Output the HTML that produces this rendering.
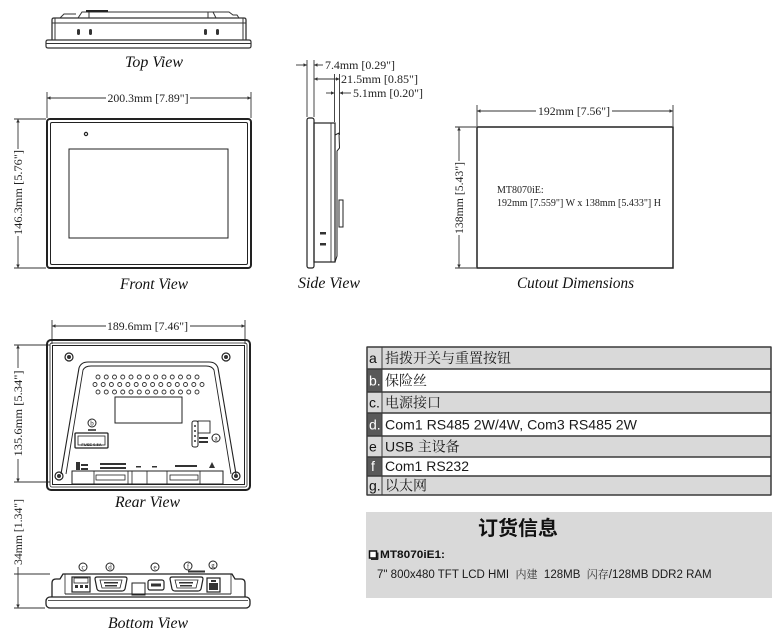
<!DOCTYPE html>
<html><head><meta charset="utf-8">
<style>
html,body{margin:0;padding:0;background:#fff;}
svg{display:block;}
</style></head><body>
<svg width="780" height="639" viewBox="0 0 780 639" xmlns="http://www.w3.org/2000/svg">
<defs>
<marker id="ar" viewBox="0 0 6 6" refX="6" refY="3" markerWidth="4" markerHeight="4" orient="auto-start-reverse"><path d="M0,0 L6,3 L0,6 z" fill="#333"/></marker>
</defs>
<rect x="0" y="0" width="780" height="639" fill="#fff"/>

<!-- ================= TOP VIEW ================= -->
<g fill="none" stroke="#333" stroke-width="1">
  <path d="M48 40 H249 Q251 40 251 42 V46 Q251 48 249 48 H48 Q46 48 46 46 V42 Q46 40 48 40 Z" stroke-width="1.2"/>
  <line x1="46" y1="43.5" x2="251" y2="43.5"/>
  <path d="M52 40 V20 Q52 18 54 18 H244 Q246 18 246 20 V40" stroke-width="1.3"/>
  <line x1="52" y1="23" x2="246" y2="23"/>
  <line x1="55" y1="18" x2="55" y2="40"/>
  <line x1="243" y1="18" x2="243" y2="40"/>
  <path d="M57 18 H60 L64 14 H76 M76 18 H78 L82 12 H229 L233 15 H237 L239 18"/>
  <line x1="89" y1="12" x2="89" y2="18"/>
  <line x1="208" y1="12" x2="208" y2="18"/>
  <line x1="213" y1="12" x2="216" y2="18"/>
</g>
<line x1="86" y1="11" x2="108" y2="11" stroke="#222" stroke-width="2"/>
<g fill="#333">
  <rect x="77" y="29" width="3" height="6" rx="1.5"/>
  <rect x="89" y="29" width="3" height="6" rx="1.5"/>
  <rect x="204" y="29" width="3" height="6" rx="1.5"/>
  <rect x="216" y="29" width="3" height="6" rx="1.5"/>
</g>
<text x="154" y="67" text-anchor="middle" font-family="Liberation Serif, serif" font-style="italic" font-size="16" fill="#111" textLength="58" lengthAdjust="spacingAndGlyphs">Top View</text>

<!-- ================= FRONT VIEW ================= -->
<g fill="none" stroke="#333" stroke-width="0.9">
  <line x1="47" y1="92" x2="47" y2="118"/>
  <line x1="251" y1="92" x2="251" y2="118"/>
  <line x1="47" y1="98" x2="106" y2="98" marker-start="url(#ar)"/>
  <line x1="190" y1="98" x2="251" y2="98" marker-end="url(#ar)"/>
  <line x1="14" y1="119" x2="46" y2="119"/>
  <line x1="14" y1="268" x2="46" y2="268"/>
  <line x1="18" y1="119" x2="18" y2="149" marker-start="url(#ar)"/>
  <line x1="18" y1="236" x2="18" y2="268" marker-end="url(#ar)"/>
</g>
<text x="148" y="102" text-anchor="middle" font-family="Liberation Serif, serif" font-size="12" fill="#222" textLength="81" lengthAdjust="spacingAndGlyphs">200.3mm [7.89"]</text>
<text transform="translate(22,192.5) rotate(-90)" x="0" y="0" text-anchor="middle" font-family="Liberation Serif, serif" font-size="12" fill="#222" textLength="85" lengthAdjust="spacingAndGlyphs">146.3mm [5.76"]</text>
<g fill="none" stroke="#222">
  <rect x="47" y="119" width="204" height="149" rx="3" stroke-width="2"/>
  <rect x="50.5" y="122.5" width="197" height="142" rx="1.5" stroke-width="1"/>
  <rect x="69" y="149" width="159" height="89" stroke-width="1"/>
  <circle cx="86" cy="134" r="1.6" stroke-width="1.2"/>
</g>
<text x="154" y="289" text-anchor="middle" font-family="Liberation Serif, serif" font-style="italic" font-size="16" fill="#111" textLength="68" lengthAdjust="spacingAndGlyphs">Front View</text>

<!-- ================= SIDE VIEW ================= -->
<g fill="none" stroke="#333" stroke-width="0.9">
  <line x1="307" y1="60" x2="307" y2="117"/>
  <line x1="314" y1="60" x2="314" y2="117"/>
  <line x1="334.5" y1="74" x2="334.5" y2="122"/>
  <line x1="339.5" y1="74" x2="339.5" y2="135"/>
  <line x1="296" y1="65" x2="307" y2="65" marker-end="url(#ar)"/>
  <line x1="314" y1="65" x2="323" y2="65" marker-start="url(#ar)"/>
  <line x1="314" y1="79" x2="339.5" y2="79" marker-start="url(#ar)" marker-end="url(#ar)"/>
  <line x1="326" y1="93" x2="334.5" y2="93" marker-end="url(#ar)"/>
  <line x1="339.5" y1="93" x2="351" y2="93" marker-start="url(#ar)"/>
</g>
<g font-family="Liberation Serif, serif" font-size="12" fill="#222">
  <text x="325" y="69" textLength="70" lengthAdjust="spacingAndGlyphs">7.4mm [0.29"]</text>
  <text x="341" y="83" textLength="77" lengthAdjust="spacingAndGlyphs">21.5mm [0.85"]</text>
  <text x="353" y="97" textLength="70" lengthAdjust="spacingAndGlyphs">5.1mm [0.20"]</text>
</g>
<g fill="none" stroke="#222" stroke-width="1.2">
  <rect x="307" y="118" width="7" height="150" rx="2"/>
  <rect x="314" y="123" width="21" height="139"/>
  <line x1="331" y1="123" x2="331" y2="262" stroke-width="0.8"/>
  <path d="M335 135 L339 133 L339.5 148 L337 151 V256 L335 262" stroke-width="1"/>
  <rect x="339" y="200" width="4" height="27" stroke-width="1"/>
</g>
<g fill="#333">
  <rect x="320" y="232" width="6" height="2.5"/>
  <rect x="320" y="243" width="6" height="2.5"/>
</g>
<text x="329" y="288" text-anchor="middle" font-family="Liberation Serif, serif" font-style="italic" font-size="16" fill="#111" textLength="62" lengthAdjust="spacingAndGlyphs">Side View</text>

<!-- ================= CUTOUT ================= -->
<g fill="none" stroke="#333" stroke-width="0.9">
  <line x1="477" y1="105" x2="477" y2="126"/>
  <line x1="673" y1="105" x2="673" y2="126"/>
  <line x1="477" y1="111" x2="536" y2="111" marker-start="url(#ar)"/>
  <line x1="612" y1="111" x2="673" y2="111" marker-end="url(#ar)"/>
  <line x1="455" y1="127" x2="476" y2="127"/>
  <line x1="455" y1="268" x2="476" y2="268"/>
  <line x1="459" y1="127" x2="459" y2="161" marker-start="url(#ar)"/>
  <line x1="459" y1="235" x2="459" y2="268" marker-end="url(#ar)"/>
</g>
<text x="574" y="115" text-anchor="middle" font-family="Liberation Serif, serif" font-size="12" fill="#222" textLength="72" lengthAdjust="spacingAndGlyphs">192mm [7.56"]</text>
<text transform="translate(463,198) rotate(-90)" x="0" y="0" text-anchor="middle" font-family="Liberation Serif, serif" font-size="12" fill="#222" textLength="72" lengthAdjust="spacingAndGlyphs">138mm [5.43"]</text>
<rect x="477" y="127" width="196" height="141" fill="none" stroke="#222" stroke-width="1.5"/>
<g font-family="Liberation Serif, serif" font-size="10" fill="#222">
  <text x="497" y="193">MT8070iE:</text>
  <text x="497" y="206" textLength="164" lengthAdjust="spacingAndGlyphs">192mm [7.559"] W x 138mm [5.433"] H</text>
</g>
<text x="575.5" y="288" text-anchor="middle" font-family="Liberation Serif, serif" font-style="italic" font-size="16" fill="#111" textLength="117" lengthAdjust="spacingAndGlyphs">Cutout Dimensions</text>

<!-- ================= REAR VIEW ================= -->
<g fill="none" stroke="#333" stroke-width="0.9">
  <line x1="52" y1="320" x2="52" y2="344"/>
  <line x1="245" y1="320" x2="245" y2="344"/>
  <line x1="52" y1="326" x2="106" y2="326" marker-start="url(#ar)"/>
  <line x1="190" y1="326" x2="245" y2="326" marker-end="url(#ar)"/>
  <line x1="14" y1="345" x2="50" y2="345"/>
  <line x1="14" y1="482" x2="50" y2="482"/>
  <line x1="18" y1="345" x2="18" y2="368" marker-start="url(#ar)"/>
  <line x1="18" y1="459" x2="18" y2="482" marker-end="url(#ar)"/>
</g>
<text x="147.5" y="330" text-anchor="middle" font-family="Liberation Serif, serif" font-size="12" fill="#222" textLength="81" lengthAdjust="spacingAndGlyphs">189.6mm [7.46"]</text>
<text transform="translate(22,413.5) rotate(-90)" x="0" y="0" text-anchor="middle" font-family="Liberation Serif, serif" font-size="12" fill="#222" textLength="86" lengthAdjust="spacingAndGlyphs">135.6mm [5.34"]</text>
<g fill="none" stroke="#222">
  <rect x="47" y="340" width="203" height="150" rx="4" stroke-width="2"/>
  <rect x="50" y="343" width="197" height="144" rx="2" stroke-width="0.8"/>
  <rect x="52.5" y="345.5" width="192" height="139" stroke-width="1"/>
  <path d="M61 474 L79 368 Q81 362 88 362 H209 Q216 362 218 368 L236 474" stroke-width="1.1"/>
  <path d="M66 474 L83 370 Q85 366 91 366 H206 Q212 366 214 370 L231 474" stroke-width="0.9"/>
  <circle cx="69" cy="357" r="4" stroke-width="1.2"/>
  <circle cx="226" cy="357" r="4" stroke-width="1.2"/>
  <circle cx="59" cy="476" r="4" stroke-width="1.2"/>
  <circle cx="236" cy="476" r="4" stroke-width="1.2"/>
  <rect x="115" y="397" width="67" height="26" stroke-width="1"/>
  <rect x="75" y="433" width="33" height="15" rx="1" stroke-width="1.3"/>
  <rect x="78" y="436" width="27" height="9" stroke-width="0.8"/>
  <circle cx="92" cy="423" r="4" stroke-width="1"/>
  <line x1="88" y1="430" x2="96" y2="430" stroke-width="1.5"/>
  <rect x="192" y="421" width="6" height="26" rx="2" stroke-width="1"/>
  <rect x="198" y="421" width="12" height="12" stroke-width="0.9"/>
  <circle cx="216" cy="438" r="4" stroke-width="1"/>
  <rect x="72" y="471" width="151" height="13" stroke-width="1"/>
  <line x1="94" y1="471" x2="94" y2="484" stroke-width="0.8"/>
  <line x1="128" y1="471" x2="128" y2="484" stroke-width="0.8"/>
  <line x1="132" y1="471" x2="132" y2="484" stroke-width="0.8"/>
  <line x1="147" y1="471" x2="147" y2="484" stroke-width="0.8"/>
  <line x1="167" y1="471" x2="167" y2="484" stroke-width="0.8"/>
  <line x1="200" y1="471" x2="200" y2="484" stroke-width="0.8"/>
  <rect x="96" y="475" width="29" height="5" stroke-width="0.8"/>
  <rect x="170" y="475" width="28" height="5" stroke-width="0.8"/>
</g>
<g fill="#333">
  <circle cx="69" cy="357" r="2"/>
  <circle cx="226" cy="357" r="2"/>
  <circle cx="59" cy="476" r="2"/>
  <circle cx="236" cy="476" r="2"/>
  <circle cx="195" cy="426" r="1"/>
  <circle cx="195" cy="431" r="1"/>
  <circle cx="195" cy="436" r="1"/>
  <circle cx="195" cy="441" r="1"/>
  <rect x="100" y="463" width="26" height="2"/>
  <rect x="100" y="467" width="26" height="2"/>
  <rect x="175" y="465" width="22" height="2"/>
  <rect x="76" y="462" width="4" height="8"/>
  <rect x="81" y="464" width="7" height="2"/>
  <rect x="81" y="468" width="7" height="2"/>
  <path d="M209 468 L212 462 L215 468 Z"/>
  <rect x="136" y="466" width="5" height="1.5"/>
  <rect x="152" y="466" width="5" height="1.5"/>
  <rect x="199" y="437" width="9" height="2"/>
  <rect x="199" y="441" width="9" height="2"/>
</g>
<text x="91.5" y="446" text-anchor="middle" font-family="Liberation Sans, sans-serif" font-weight="bold" font-size="4" fill="#222">FUSE 0.5A</text>
<g font-family="Liberation Serif, serif" font-size="7" fill="#222" text-anchor="middle">
  <text x="92" y="425.5">b</text>
  <text x="216" y="440.5">a</text>
</g>
<g fill="none" stroke="#333" stroke-width="0.9">
<circle cx="98" cy="377" r="2"/><circle cx="106.25" cy="377" r="2"/><circle cx="114.5" cy="377" r="2"/><circle cx="122.75" cy="377" r="2"/><circle cx="131" cy="377" r="2"/><circle cx="139.25" cy="377" r="2"/><circle cx="147.5" cy="377" r="2"/><circle cx="155.75" cy="377" r="2"/><circle cx="164" cy="377" r="2"/><circle cx="172.25" cy="377" r="2"/><circle cx="180.5" cy="377" r="2"/><circle cx="188.75" cy="377" r="2"/><circle cx="197" cy="377" r="2"/>
<circle cx="95" cy="384.5" r="2"/><circle cx="103.2" cy="384.5" r="2"/><circle cx="111.4" cy="384.5" r="2"/><circle cx="119.7" cy="384.5" r="2"/><circle cx="127.9" cy="384.5" r="2"/><circle cx="136.2" cy="384.5" r="2"/><circle cx="144.4" cy="384.5" r="2"/><circle cx="152.6" cy="384.5" r="2"/><circle cx="160.8" cy="384.5" r="2"/><circle cx="169.1" cy="384.5" r="2"/><circle cx="177.3" cy="384.5" r="2"/><circle cx="185.5" cy="384.5" r="2"/><circle cx="193.8" cy="384.5" r="2"/><circle cx="202" cy="384.5" r="2"/>
<circle cx="98" cy="392" r="2"/><circle cx="106.25" cy="392" r="2"/><circle cx="114.5" cy="392" r="2"/><circle cx="122.75" cy="392" r="2"/><circle cx="131" cy="392" r="2"/><circle cx="139.25" cy="392" r="2"/><circle cx="147.5" cy="392" r="2"/><circle cx="155.75" cy="392" r="2"/><circle cx="164" cy="392" r="2"/><circle cx="172.25" cy="392" r="2"/><circle cx="180.5" cy="392" r="2"/><circle cx="188.75" cy="392" r="2"/><circle cx="197" cy="392" r="2"/>
</g>
<text x="147.5" y="507" text-anchor="middle" font-family="Liberation Serif, serif" font-style="italic" font-size="16" fill="#111" textLength="65" lengthAdjust="spacingAndGlyphs">Rear View</text>

<!-- ================= BOTTOM VIEW ================= -->
<g fill="none" stroke="#333" stroke-width="0.9">
  <line x1="14" y1="574" x2="50" y2="574"/>
  <line x1="14" y1="608" x2="45" y2="608"/>
  <line x1="18" y1="567" x2="18" y2="608" marker-end="url(#ar)"/>
</g>
<text transform="translate(22,532) rotate(-90)" x="0" y="0" text-anchor="middle" font-family="Liberation Serif, serif" font-size="12" fill="#222" textLength="66" lengthAdjust="spacingAndGlyphs">34mm [1.34"]</text>
<g fill="none" stroke="#222">
  <rect x="46" y="597" width="204" height="11" rx="4" stroke-width="1.3"/>
  <line x1="48" y1="600.5" x2="248" y2="600.5" stroke-width="0.8"/>
  <path d="M52 597 V583 Q52 579 56 579 H60 L63 574 H232 L235 579 H241 Q245 579 245 583 V597" stroke-width="1.3"/>
  <line x1="65" y1="594" x2="231" y2="594" stroke-width="1"/>
  <line x1="65" y1="574" x2="65" y2="594" stroke-width="0.8"/>
  <line x1="231" y1="574" x2="231" y2="594" stroke-width="0.8"/>
  <rect x="72" y="577" width="18" height="15" stroke-width="1.2"/>
  <rect x="74" y="578" width="14" height="5" stroke-width="0.8"/>
  <path d="M95 579 Q95 577 97 577 H125 Q127 577 127 579 L125 589 Q124 591 122 591 H100 Q98 591 97 589 Z" stroke-width="1.2"/>
  <path d="M100 580 H122 L120 588 H102 Z" stroke-width="0.8"/>
  <rect x="132" y="583" width="13" height="12" stroke-width="1"/>
  <rect x="148" y="580" width="16" height="10" rx="2" stroke-width="1.2"/>
  <path d="M170 579 Q170 577 172 577 H201 Q203 577 203 579 L201 589 Q200 591 198 591 H175 Q173 591 172 589 Z" stroke-width="1.2"/>
  <path d="M175 580 H198 L196 588 H177 Z" stroke-width="0.8"/>
  <rect x="207" y="578" width="13" height="14" stroke-width="1.2"/>
  <circle cx="83" cy="567" r="4" stroke-width="1"/>
  <circle cx="110" cy="567" r="4" stroke-width="1"/>
  <circle cx="155" cy="567" r="4" stroke-width="1"/>
  <circle cx="188" cy="566" r="4" stroke-width="1"/>
  <circle cx="213" cy="565" r="4" stroke-width="1"/>
</g>
<g fill="#333">
  <rect x="75" y="585" width="3" height="3"/>
  <rect x="80" y="585" width="3" height="3"/>
  <rect x="85" y="585" width="3" height="3"/>
  <rect x="104" y="582" width="14" height="1.5"/>
  <rect x="105" y="585" width="12" height="1.5"/>
  <rect x="179" y="582" width="14" height="1.5"/>
  <rect x="180" y="585" width="12" height="1.5"/>
  <rect x="151" y="583.5" width="10" height="3"/>
  <rect x="209" y="583" width="9" height="7"/>
  <rect x="211" y="580" width="5" height="2"/>
  <rect x="188" y="570.5" width="17" height="2"/>
</g>
<g font-family="Liberation Serif, serif" font-size="7" fill="#222" text-anchor="middle">
  <text x="83" y="569.5">c</text>
  <text x="110" y="569.5">d</text>
  <text x="155" y="569.5">e</text>
  <text x="188" y="568.5">f</text>
  <text x="213" y="567.5">g</text>
</g>
<text x="148" y="628" text-anchor="middle" font-family="Liberation Serif, serif" font-style="italic" font-size="16" fill="#111" textLength="80" lengthAdjust="spacingAndGlyphs">Bottom View</text>

<!-- ================= TABLE ================= -->
<g>
  <rect x="367" y="347" width="404" height="22" fill="#d9d9d9"/>
  <rect x="367" y="369" width="15" height="23" fill="#595959"/>
  <rect x="382" y="369" width="389" height="23" fill="#fff"/>
  <rect x="367" y="392" width="404" height="21" fill="#d9d9d9"/>
  <rect x="367" y="413" width="15" height="23" fill="#595959"/>
  <rect x="382" y="413" width="389" height="23" fill="#fff"/>
  <rect x="367" y="436" width="404" height="21" fill="#d9d9d9"/>
  <rect x="367" y="457" width="15" height="19" fill="#595959"/>
  <rect x="382" y="457" width="389" height="19" fill="#fff"/>
  <rect x="367" y="476" width="404" height="19" fill="#d9d9d9"/>
</g>
<g stroke="#3a3a3a" stroke-width="1.5" fill="none">
  <line x1="366.5" y1="347" x2="771.5" y2="347"/>
  <line x1="366.5" y1="369" x2="771.5" y2="369"/>
  <line x1="366.5" y1="392" x2="771.5" y2="392"/>
  <line x1="366.5" y1="413" x2="771.5" y2="413"/>
  <line x1="366.5" y1="436" x2="771.5" y2="436"/>
  <line x1="366.5" y1="457" x2="771.5" y2="457"/>
  <line x1="366.5" y1="476" x2="771.5" y2="476"/>
  <line x1="366.5" y1="495" x2="771.5" y2="495"/>
  <line x1="367" y1="347" x2="367" y2="495"/>
  <line x1="382" y1="347" x2="382" y2="495" stroke-width="1"/>
  <line x1="771" y1="347" x2="771" y2="495"/>
</g>
<g font-family="Liberation Sans, sans-serif" font-size="14">
  <text x="369" y="363" fill="#111">a</text>
  <text x="369" y="385.5" fill="#fff">b.</text>
  <text x="369" y="407.5" fill="#111">c.</text>
  <text x="369" y="429.5" fill="#fff">d.</text>
  <text x="369" y="451.5" fill="#111">e</text>
  <text x="371" y="471" fill="#fff">f</text>
  <text x="369" y="490.5" fill="#111">g.</text>
</g>
<g font-family="Liberation Sans, Noto Serif CJK SC, serif" font-size="14" fill="#1a1a1a">
  <text x="385" y="363" font-family="Noto Serif CJK SC, serif">指拨开关与重置按钮</text>
  <text x="385" y="385.5" font-family="Noto Serif CJK SC, serif">保险丝</text>
  <text x="385" y="407.5" font-family="Noto Serif CJK SC, serif">电源接口</text>
  <text x="385" y="429.5" textLength="252" lengthAdjust="spacingAndGlyphs">Com1 RS485 2W/4W, Com3 RS485 2W</text>
  <text x="385" y="451.5">USB <tspan font-family="Noto Serif CJK SC, serif">主设备</tspan></text>
  <text x="385" y="471" textLength="84" lengthAdjust="spacingAndGlyphs">Com1 RS232</text>
  <text x="385" y="490.5" font-family="Noto Serif CJK SC, serif">以太网</text>
</g>

<!-- ================= ORDER INFO ================= -->
<rect x="366" y="512" width="406" height="86" fill="#d9d9d9"/>
<text x="478" y="535" font-family="Noto Sans CJK SC, sans-serif" font-weight="bold" font-size="20" fill="#111">订货信息</text>
<rect x="369.5" y="551" width="7" height="7" fill="#fff" stroke="#111" stroke-width="1.5"/>
<line x1="371" y1="559.3" x2="378" y2="559.3" stroke="#111" stroke-width="1.2"/>
<line x1="377.8" y1="552.5" x2="377.8" y2="559.5" stroke="#111" stroke-width="1.2"/>
<text x="380" y="558" font-family="Liberation Sans, sans-serif" font-weight="bold" font-size="11" fill="#111" textLength="65" lengthAdjust="spacingAndGlyphs">MT8070iE1:</text>
<text x="377" y="578" font-family="Liberation Sans, sans-serif" font-size="11.5" fill="#1a1a1a" style="white-space:pre" xml:space="preserve">7" 800x480 TFT LCD HMI  <tspan font-family="Noto Serif CJK SC, serif" font-size="11" fill="#333">内建</tspan>  128MB  <tspan font-family="Noto Serif CJK SC, serif" font-size="11" fill="#333">闪存</tspan>/128MB DDR2 RAM</text>
</svg>
</body></html>
